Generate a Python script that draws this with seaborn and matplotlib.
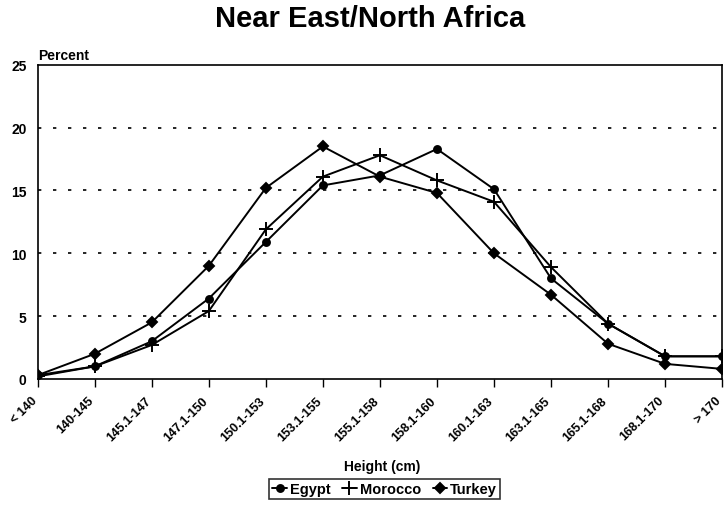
import numpy as np
import pandas as pd
import seaborn as sb
import matplotlib
matplotlib.use("Agg")
import matplotlib.pyplot as plt
from matplotlib.transforms import ScaledTranslation

categories = ['< 140', '140-145', '145.1-147', '147.1-150', '150.1-153', '153.1-155',
              '155.1-158', '158.1-160', '160.1-163', '163.1-165', '165.1-168',
              '168.1-170', '> 170']
egypt = [0.3, 1.0, 3.0, 6.4, 10.9, 15.4, 16.2, 18.3, 15.1, 8.0, 4.4, 1.8, 1.8]
morocco = [0.2, 1.0, 2.7, 5.4, 11.9, 16.1, 17.8, 15.8, 14.1, 8.9, 4.4, 1.8, 1.8]
turkey = [0.3, 2.0, 4.5, 9.0, 15.2, 18.5, 16.1, 14.8, 10.0, 6.7, 2.8, 1.2, 0.8]

sb.set_style("white")
plt.rcParams['font.family'] = ['Liberation Sans Narrow', 'Liberation Sans', 'DejaVu Sans']
plt.rcParams['text.color'] = 'black'
plt.rcParams['xtick.color'] = 'black'
plt.rcParams['ytick.color'] = 'black'
plt.rcParams['axes.labelcolor'] = 'black'

fig = plt.figure(figsize=(7.25, 5.1), dpi=100)
ax = fig.add_axes([0.052, 0.255, 0.944, 0.616])

pos = np.arange(len(categories))
series = [('Egypt', egypt, 'o', 5), ('Morocco', morocco, '+', 10), ('Turkey', turkey, 'D', 5)]
for name, vals, mk, ms in series:
    sb.lineplot(x=pos, y=vals, ax=ax, color='black', linewidth=1.4, marker=mk,
                markersize=ms, markeredgecolor='black', markeredgewidth=1.4, label=name)

ax.set_xlim(0, len(categories) - 1)
ax.set_ylim(0, 25)
ax.set_yticks([0, 5, 10, 15, 20, 25])
ax.set_yticklabels(['0', '5', '10', '15', '20', '25'], fontsize=10, fontweight='bold')
ax.set_xticks(pos)
ax.set_xticklabels(categories, rotation=45, ha='right', rotation_mode='anchor',
                   fontsize=9, fontweight='bold')
ax.tick_params(axis='x', direction='out', length=6, width=1, bottom=True, pad=5)
ax.tick_params(axis='y', length=0, pad=8)
# pull the slanted labels left so they end under their tick
shift = ScaledTranslation(-7 / 100, 0, fig.dpi_scale_trans)
for lbl in ax.get_xticklabels():
    lbl.set_transform(lbl.get_transform() + shift)

for y in [5, 10, 15, 20]:
    ax.axhline(y, color='black', linestyle=(0, (2, 7)), linewidth=1.2, zorder=0)

for s in ax.spines.values():
    s.set_color('black')
    s.set_linewidth(1.2)

ax.set_xlabel('')
ax.set_ylabel('')
fig.text(0.527, 0.084, 'Height (cm)', fontsize=10, fontweight='bold', ha='center', va='center')
ax.text(0.0, 1.01, 'Percent', transform=ax.transAxes, fontsize=10, fontweight='bold',
        ha='left', va='bottom')
fig.suptitle('Near East/North Africa', fontsize=21, fontweight='bold', x=0.51, y=0.99)

leg = ax.legend(loc='upper center', bbox_to_anchor=(0.507, -0.318), ncol=3, frameon=True,
                fancybox=False, edgecolor='black', fontsize=10.5, handlelength=1.0,
                handletextpad=0.2, columnspacing=0.8, borderpad=0.2, markerscale=1.0,
                borderaxespad=0)
leg.get_frame().set_linewidth(1.2)
for t in leg.get_texts():
    t.set_fontweight('bold')

fig.savefig('out.png', dpi=100)
